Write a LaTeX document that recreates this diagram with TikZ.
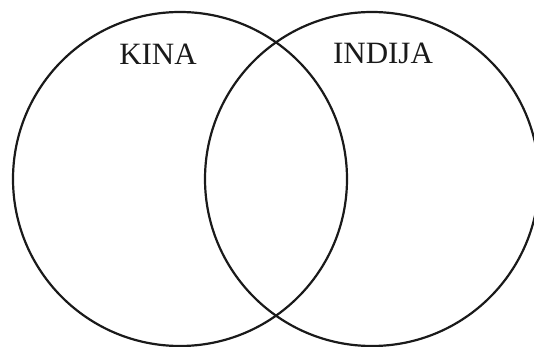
\documentclass[tikz,border=0pt]{standalone}
\usepackage{fontspec}
\setmainfont{Liberation Serif}
\usetikzlibrary{positioning}
\definecolor{cink}{HTML}{1A1A1A}
\tikzset{
  every picture/.style={x=1pt, y=-1pt},
  set/.style={circle, draw=cink, line width=2.2pt, minimum size=334pt, inner sep=0pt},
  setlabel/.style={font=\fontsize{31}{31}\selectfont, text=cink, inner sep=0pt},
}
\begin{document}
\begin{tikzpicture}
  \useasboundingbox (0,0) rectangle (534,347);
  \clip (0,0) rectangle (534,347);
  \node[set] (kina) at (180,179) {};
  \node[set] (indija) at (372,179) {};
  \node[setlabel] (kinalbl) at (158,54) {KINA};
  \node[setlabel] (indijalbl) at (383,53) {INDIJA};
\end{tikzpicture}
\end{document}
